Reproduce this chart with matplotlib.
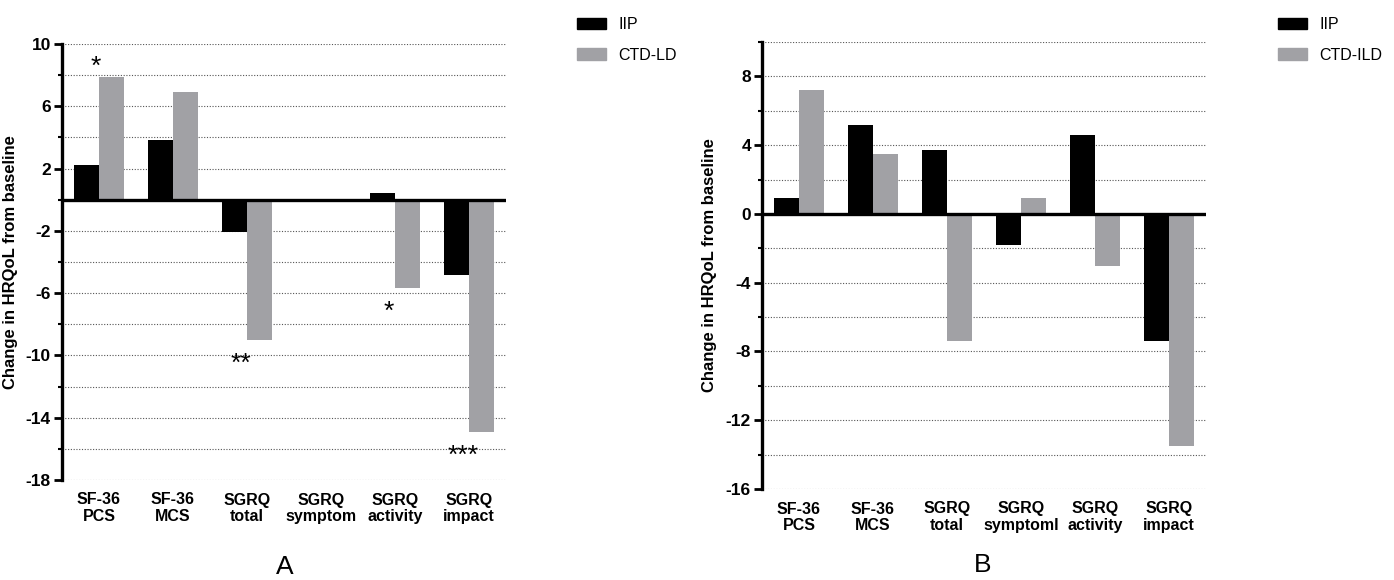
import numpy as np
import matplotlib
matplotlib.use("Agg")
import matplotlib.pyplot as plt
from matplotlib.patches import Patch

plt.rcParams['font.family'] = ['Liberation Sans', 'DejaVu Sans']

W, H = 1394, 580

categories_A = ["SF-36\nPCS", "SF-36\nMCS", "SGRQ\ntotal", "SGRQ\nsymptom", "SGRQ\nactivity", "SGRQ\nimpact"]
categories_B = ["SF-36\nPCS", "SF-36\nMCS", "SGRQ\ntotal", "SGRQ\nsymptoml", "SGRQ\nactivity", "SGRQ\nimpact"]

iip_A = [2.2, 3.85, -2.1, 0.0, 0.45, -4.85]
ctd_A = [7.9, 6.9, -9.0, 0.0, -5.7, -14.9]
stars_A = ["*", "", "**", "", "*", "***"]

iip_B = [0.9, 5.2, 3.7, -1.8, 4.6, -7.4]
ctd_B = [7.2, 3.5, -7.4, 0.95, -3.05, -13.5]

legend_A = ["IIP", "CTD-LD"]
legend_B = ["IIP", "CTD-ILD"]
panel_labels = ["A", "B"]

black = "#000000"
gray = "#a1a1a5"

fig = plt.figure(figsize=(W / 100, H / 100), dpi=100)


def px_axes(left, right, top, bottom):
    return fig.add_axes([left / W, (H - bottom) / H, (right - left) / W, (bottom - top) / H])


def draw_panel(ax, cats, iip, ctd, ylim, major, minor, labx):
    x = np.arange(len(cats))
    w = 0.335
    ax.bar(x - w / 2 - 0.005, iip, width=w, color=black, zorder=3)
    ax.bar(x + w / 2 + 0.005, ctd, width=w, color=gray, zorder=3)
    ax.set_xlim(-0.5, len(cats) - 0.5)
    ax.set_ylim(*ylim)
    ax.set_yticks(major)
    ax.set_yticks(minor, minor=True)
    ax.set_yticklabels([f"{v:g}" for v in major], fontsize=12.5, fontweight='bold')
    ax.grid(axis='y', which='both', linestyle=(0, (1, 1.5)), color='#555555', lw=0.8, zorder=0)
    ax.axhline(0, color='black', lw=2.4, zorder=4)
    for s in ['top', 'right', 'bottom']:
        ax.spines[s].set_visible(False)
    ax.spines['left'].set_linewidth(2.4)
    ax.tick_params(axis='y', which='major', length=6, width=2, pad=2)
    ax.tick_params(axis='y', which='minor', length=3, width=1.5)
    ax.set_xticks(x)
    ax.set_xticklabels(cats, fontsize=11.5, fontweight='bold', linespacing=1.15)
    ax.tick_params(axis='x', length=0, pad=9)
    ax.set_ylabel("Change in HRQoL from baseline", fontsize=12, fontweight='bold')
    ax.yaxis.set_label_coords(labx, 0.5)
    return x


axA = px_axes(62, 506, 44, 480)
xA = draw_panel(axA, categories_A, iip_A, ctd_A, (-18, 10),
                [10, 6, 2, -2, -6, -10, -14, -18], [8, 4, 0, -4, -8, -12, -16], -0.099)
for i, s in enumerate(stars_A):
    if not s:
        continue
    v = ctd_A[i]
    if v > 0:
        axA.text(xA[i] - 0.05, v - 0.15, s, ha='center', va='bottom', fontsize=19)
    else:
        axA.text(xA[i] - 0.08, v - 0.75, s, ha='center', va='top', fontsize=19)

axB = px_axes(762, 1206, 42, 489)
draw_panel(axB, categories_B, iip_B, ctd_B, (-16, 10),
           [8, 4, 0, -4, -8, -12, -16], [10, 6, 2, -2, -6, -10, -14], -0.101)

for labels, xl in [(legend_A, 577), (legend_B, 1278)]:
    handles = [Patch(facecolor=black, edgecolor=black), Patch(facecolor=gray, edgecolor=gray)]
    fig.legend(handles, labels, loc='upper left', bbox_to_anchor=((xl - 6) / W, 1 - 11 / H),
               frameon=False, fontsize=11.5, handlelength=1.8, handleheight=0.7,
               handletextpad=0.75, labelspacing=0.95, borderaxespad=0)

fig.text(285 / W, 1 - 567 / H, panel_labels[0], ha='center', va='center', fontsize=19)
fig.text(983 / W, 1 - 565 / H, panel_labels[1], ha='center', va='center', fontsize=19)

fig.savefig("out.png", dpi=100)
